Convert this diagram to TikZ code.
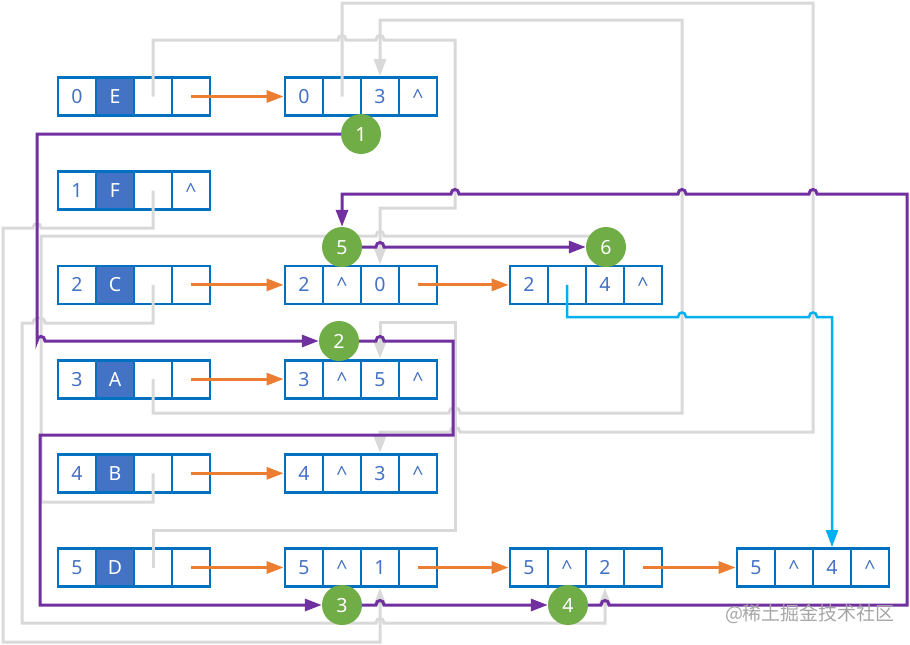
\documentclass[tikz,border=0pt]{standalone}
\usepackage{fontspec}
\setmainfont{Noto Sans}
\newfontfamily\cjk{Noto Sans CJK SC}
\usetikzlibrary{arrows.meta}
\definecolor{boxblue}{HTML}{0070C0}
\definecolor{darkcell}{HTML}{4472C4}
\definecolor{txtblue}{HTML}{4472C4}
\definecolor{orng}{HTML}{ED7D31}
\definecolor{purp}{HTML}{7030A0}
\definecolor{lgray}{HTML}{D9D9D9}
\definecolor{cyanb}{HTML}{00B0F0}
\definecolor{grn}{HTML}{70AD47}
\definecolor{wmgray}{HTML}{A6A6A6}
\tikzset{
  cell/.style={draw=boxblue, line width=2.8pt, fill=white, minimum width=38pt, minimum height=38pt,
    inner sep=0pt, text=txtblue, text height=14pt, text depth=0pt, font=\fontsize{19.5}{21}\selectfont},
  dcell/.style={cell, fill=darkcell, text=white},
  tipA/.style={-{Triangle[length=17pt,width=12pt]}},
  orarrow/.style={draw=orng, line width=3pt, tipA},
  gline/.style={draw=lgray, line width=3pt, tipA},
  pline/.style={draw=purp, line width=3pt, tipA},
  bline/.style={draw=cyanb, line width=2.5pt, tipA},
  stepcircle/.style={circle, fill=grn, minimum size=40pt, inner sep=0pt, text=white,
    text height=14pt, text depth=0pt, font=\fontsize{19.5}{21}\selectfont},
}
% vertex row: name, y, index, letter, c3, c4
\newcommand\vrow[6]{%
  \node[cell]  (#1-1) at (77,#2)  {#3};
  \node[dcell] (#1-2) at (115,#2) {#4};
  \node[cell]  (#1-3) at (153,#2) {#5};
  \node[cell]  (#1-4) at (191,#2) {#6};}
% edge row: name, left x, y, a, b, c, d
\newcommand\erow[7]{%
  \node[cell] (#1-1) at ({#2+19},#3)  {#4};
  \node[cell] (#1-2) at ({#2+57},#3)  {#5};
  \node[cell] (#1-3) at ({#2+95},#3)  {#6};
  \node[cell] (#1-4) at ({#2+133},#3) {#7};}
\newcommand\ca{\textasciicircum}
\begin{document}
\begin{tikzpicture}[x=1pt,y=-1pt]
\useasboundingbox (0,0) rectangle (910,645);
% vertex table
\vrow{v0}{96.5}{0}{E}{}{}
\vrow{v1}{190.7}{1}{F}{}{\ca}
\vrow{v2}{284.9}{2}{C}{}{}
\vrow{v3}{379.1}{3}{A}{}{}
\vrow{v4}{473.3}{4}{B}{}{}
\vrow{v5}{567.5}{5}{D}{}{}
% arc nodes
\erow{e03}{285}{96.5}{0}{}{3}{\ca}
\erow{e20}{285}{284.9}{2}{\ca}{0}{}
\erow{e24}{510}{284.9}{2}{}{4}{\ca}
\erow{e35}{285}{379.1}{3}{\ca}{5}{\ca}
\erow{e43}{285}{473.3}{4}{\ca}{3}{\ca}
\erow{e51}{285}{567.5}{5}{\ca}{1}{}
\erow{e52}{510}{567.5}{5}{\ca}{2}{}
\erow{e54}{737}{567.5}{5}{\ca}{4}{\ca}
% orange out-links
\draw[orarrow] (v0-4.center) -- (e03-1.west);
\draw[orarrow] (v2-4.center) -- (e20-1.west);
\draw[orarrow] (e20-4.center) -- (e24-1.west);
\draw[orarrow] (v3-4.center) -- (e35-1.west);
\draw[orarrow] (v4-4.center) -- (e43-1.west);
\draw[orarrow] (v5-4.center) -- (e51-1.west);
\draw[orarrow] (e51-4.center) -- (e52-1.west);
\draw[orarrow] (e52-4.center) -- (e54-1.west);
% gray in-links
\draw[gline] (v0-3.center) -- (153,40) -- (338,40) .. controls (338,34) and (346,34) .. (346,40)
  -- (376,40) .. controls (376,34) and (384,34) .. (384,40) -- (455,40) -- (455,208) -- (380,208) -- (e20-3.north);
\draw[gline] (e03-2.center) -- (342,3) -- (813,3) -- (813,432) -- (460,432) .. controls (460,426) and (450,426) .. (450,432)
  -- (380,432) -- (e43-3.north);
\draw[gline] (v3-3.center) -- (153,413) -- (449,413) .. controls (449,406) and (460,406) .. (460,413)
  -- (682,413) -- (682,20) -- (380,20) -- (e03-3.north);
\draw[gline] (v1-3.center) -- (153,228) -- (41,228) .. controls (41,222) and (33,222) .. (33,228) -- (3,228) -- (3,642)
  -- (380,642) -- (e51-3.south);
\draw[gline] (v2-3.center) -- (153,323) -- (45,323) .. controls (45,316) and (33,316) .. (33,323) -- (22,323) -- (22,623)
  -- (376,623) .. controls (376,617) and (384,617) .. (384,623) -- (605,623) -- (e52-3.south);
\draw[gline] (v4-3.center) -- (153,502) -- (41,502) -- (41,236) -- (376,236) .. controls (376,230) and (384,230) .. (384,236)
  -- (605,236) -- (e24-3.north);
\draw[gline] (v5-3.center) -- (153,530) -- (455,530) -- (455,322) -- (380,322) -- (e35-3.north);
% blue link
\draw[bline] (e24-2.center) -- (567,317) -- (678,317) .. controls (678,311) and (686,311) .. (686,317)
  -- (809,317) .. controls (809,311) and (817,311) .. (817,317) -- (832,317) -- (e54-3.north);
% step circles
\node[stepcircle] (c1) at (361,134) {1};
\node[stepcircle] (c2) at (339,341) {2};
\node[stepcircle] (c3) at (342,605) {3};
\node[stepcircle] (c4) at (568,605) {4};
\node[stepcircle] (c5) at (342,247) {5};
\node[stepcircle] (c6) at (606,247) {6};
% purple traversal
\draw[pline] (c1.west) -- (37,134) -- (37,341) .. controls (37,335) and (45,335) .. (45,341) -- (c2.west);
\draw[pline] (c2.east) -- (376,341) .. controls (376,335) and (384,335) .. (384,341) -- (453,341) -- (453,435)
  -- (40,435) -- (40,605) -- (c3.west);
\draw[pline] (c3.east) -- (376,605) .. controls (376,599) and (384,599) .. (384,605) -- (c4.west);
\draw[pline] (c4.east) -- (601,605) .. controls (601,599) and (609,599) .. (609,605) -- (907,605) -- (907,194)
  -- (817,194) .. controls (817,188) and (809,188) .. (809,194)
  -- (686,194) .. controls (686,188) and (678,188) .. (678,194)
  -- (459,194) .. controls (459,188) and (451,188) .. (451,194) -- (342,194) -- (c5.north);
\draw[pline] (c5.east) -- (376,247) .. controls (376,241) and (384,241) .. (384,247) -- (c6.west);
% watermark
\node[text=wmgray, font=\cjk\fontsize{19}{21}\selectfont, inner sep=0pt] (wm) at (810,614) {@稀土掘金技术社区};
\end{tikzpicture}
\end{document}
